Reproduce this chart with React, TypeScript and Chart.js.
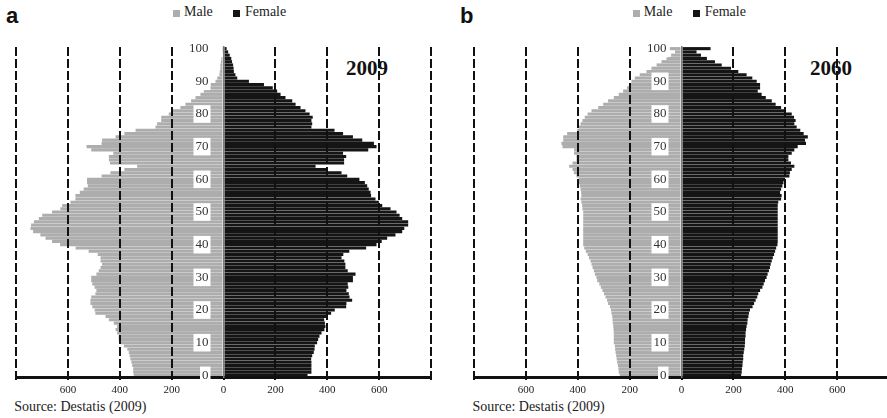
import React, { useEffect, useRef } from "react";
import { Chart, registerables } from "chart.js";

Chart.register(...registerables);

// ---------- data (thousands of persons, by single year of age 0..100) ----------
const ages: string[] = Array.from({ length: 101 }, (_, i) => String(i));

const male2009: number[] = [
  346, 348, 348, 352, 355, 359, 362, 365, 371, 384,
  397, 404, 404, 410, 416, 410, 423, 442, 455, 494,
  497, 506, 513, 513, 510, 494, 490, 497, 506, 510,
  510, 490, 481, 474, 468, 474, 474, 485, 520, 570,
  630, 661, 686, 706, 734, 744, 742, 731, 712, 699,
  661, 629, 622, 590, 571, 571, 554, 539, 523, 526,
  526, 470, 436, 382, 333, 438, 442, 442, 425, 510,
  528, 470, 468, 416, 382, 339, 262, 256, 240, 240,
  211, 198, 166, 147, 125, 108, 89, 76, 52, 50,
  31, 24, 16, 14, 12, 12, 10, 8, 4, 3,
  2,
];

const female2009: number[] = [
  324, 339, 339, 339, 339, 338, 342, 348, 351, 352,
  361, 365, 370, 378, 389, 393, 391, 388, 400, 415,
  429, 473, 474, 496, 486, 483, 474, 481, 479, 499,
  499, 509, 479, 470, 470, 466, 455, 462, 485, 550,
  590, 610, 631, 663, 689, 697, 712, 712, 689, 679,
  667, 644, 612, 599, 586, 569, 567, 560, 554, 545,
  524, 477, 455, 400, 355, 465, 465, 473, 461, 558,
  590, 580, 535, 499, 461, 428, 339, 342, 339, 344,
  332, 316, 297, 278, 265, 239, 220, 207, 190, 156,
  98, 53, 46, 40, 39, 37, 33, 30, 24, 18,
  12,
];

const male2060: number[] = [
  238, 242, 243, 245, 248, 250, 252, 254, 256, 257,
  261, 261, 261, 261, 262, 263, 265, 266, 267, 270,
  272, 276, 283, 287, 293, 299, 305, 311, 317, 325,
  328, 334, 338, 343, 347, 351, 357, 362, 369, 375,
  379, 379, 379, 379, 379, 379, 379, 379, 379, 379,
  379, 382, 383, 386, 389, 386, 387, 389, 392, 395,
  396, 405, 415, 420, 433, 420, 405, 405, 414, 414,
  459, 463, 456, 456, 441, 402, 395, 389, 382, 373,
  362, 347, 321, 302, 283, 261, 242, 225, 210, 202,
  193, 180, 161, 135, 116, 96, 77, 58, 40, 25,
  45,
];

const female2060: number[] = [
  230, 232, 233, 235, 236, 238, 238, 240, 242, 244,
  245, 245, 247, 247, 249, 251, 254, 255, 258, 260,
  264, 274, 280, 286, 292, 296, 303, 312, 317, 322,
  328, 332, 337, 341, 344, 348, 352, 357, 361, 365,
  370, 371, 371, 371, 371, 371, 371, 371, 371, 371,
  371, 371, 371, 373, 384, 386, 380, 384, 389, 393,
  399, 416, 418, 425, 435, 422, 412, 412, 425, 435,
  448, 480, 476, 487, 471, 458, 444, 435, 440, 434,
  425, 399, 384, 363, 348, 325, 309, 294, 303, 303,
  290, 273, 251, 219, 191, 155, 129, 98, 75, 58,
  112,
];

const xTickStep = 200;
const xMin = -800;
const xMax = 800;
const legendLabels = ["Male", "Female"];

// ---------- styles ----------
const SERIF = "'Liberation Serif', 'Times New Roman', serif";
const SANS = "'Liberation Sans', Arial, sans-serif";
const MALE_COLOR = "#adadad";
const FEMALE_COLOR = "#151515";
const H = 418;

type PyramidProps = {
  male: number[];
  female: number[];
  left: number;
  width: number;
  padLeft: number;
  padRight: number;
};

function Pyramid({ male, female, left, width, padLeft, padRight }: PyramidProps) {
  const ref = useRef<HTMLCanvasElement | null>(null);

  useEffect(() => {
    if (!ref.current) return;
    const chart = new Chart(ref.current, {
      type: "bar",
      data: {
        labels: ages,
        datasets: [
          {
            label: legendLabels[0],
            data: male.map((v) => -v),
            backgroundColor: MALE_COLOR,
            borderWidth: 0,
          },
          {
            label: legendLabels[1],
            data: female,
            backgroundColor: FEMALE_COLOR,
            borderWidth: 0,
          },
        ],
      },
      options: {
        indexAxis: "y",
        animation: false,
        responsive: false,
        maintainAspectRatio: false,
        events: [],
        layout: { padding: { left: padLeft, right: padRight, top: 47, bottom: 21 } },
        plugins: { legend: { display: false }, tooltip: { enabled: false } },
        datasets: { bar: { categoryPercentage: 1, barPercentage: 0.95 } },
        scales: {
          x: {
            type: "linear",
            min: xMin,
            max: xMax,
            stacked: true,
            afterFit: (s: any) => {
              s.height = 20;
            },
            ticks: {
              stepSize: xTickStep,
              maxRotation: 0,
              autoSkip: false,
              padding: 4,
              color: "#222",
              font: { family: SERIF, size: 11 },
              callback: (v: any) => (Math.abs(v) === 800 ? "" : String(Math.abs(v))),
            },
            grid: {
              z: 1,
              lineWidth: 2,
              color: (ctx: any) =>
                ctx.tick && ctx.tick.value === 0 ? "rgba(0,0,0,0)" : "#111",
              drawTicks: true,
              tickLength: 3,
              tickColor: "#111",
              tickWidth: 2,
            },
            border: { display: true, color: "#111", width: 3, dash: [9, 3], z: 1 },
          },
          y: {
            type: "category",
            reverse: true,
            stacked: true,
            position: "center",
            afterBuildTicks: (s: any) => {
              s.ticks = s.ticks.filter((t: any) => t.value % 10 === 0);
            },
            grid: { display: false, drawTicks: false },
            border: { display: true, color: "#7a7a7a", width: 1.5, z: 1 },
            ticks: {
              z: 2,
              autoSkip: false,
              padding: 15,
              color: "#333",
              font: { family: SERIF, size: 13 },
              showLabelBackdrop: true,
              backdropColor: "#ffffff",
              backdropPadding: { x: 2, y: 1 },
              callback: (v: any) => ages[v],
            },
          },
        },
      } as any,
    });
    return () => chart.destroy();
  }, []);

  return (
    <canvas
      ref={ref}
      width={width}
      height={H}
      style={{ position: "absolute", left, top: 0, width, height: H, zIndex: 1, display: "block" }}
    />
  );
}

function Legend({ left }: { left: number }) {
  const text: React.CSSProperties = {
    position: "absolute",
    top: 5,
    font: `14px ${SERIF}`,
    lineHeight: "14px",
    color: "#222",
    whiteSpace: "nowrap",
  };
  const sq: React.CSSProperties = { position: "absolute", top: 9.5, width: 7, height: 7 };
  return (
    <>
      <div style={{ ...sq, left, background: MALE_COLOR }} />
      <div style={{ ...text, left: left + 11 }}>{legendLabels[0]}</div>
      <div style={{ ...sq, left: left + 60, background: FEMALE_COLOR }} />
      <div style={{ ...text, left: left + 72 }}>{legendLabels[1]}</div>
    </>
  );
}

function Label({ left, top, children, style }: any) {
  return (
    <div style={{ position: "absolute", left, top, whiteSpace: "nowrap", zIndex: 0, ...style }}>
      {children}
    </div>
  );
}

export default function App() {
  const panelLetter = { font: `bold 22px ${SANS}`, lineHeight: "22px", color: "#111" };
  const year = { font: `bold 21px ${SERIF}`, lineHeight: "21px", color: "#111" };
  const source = { font: `14px ${SERIF}`, lineHeight: "14px", color: "#222" };
  return (
    <div
      style={{
        position: "fixed",
        left: 0,
        top: 0,
        width: 887,
        height: H,
        overflow: "hidden",
        background: "#fff",
      }}
    >
      <Label left={6} top={5.4} style={panelLetter}>a</Label>
      <Label left={460} top={5.4} style={panelLetter}>b</Label>
      <Label left={346} top={58.4} style={year}>2009</Label>
      <Label left={810} top={58.4} style={year}>2060</Label>
      <Label left={14.2} top={400.3} style={source}>Source: Destatis (2009)</Label>
      <Label left={472.5} top={400.3} style={source}>Source: Destatis (2009)</Label>
      <Legend left={173} />
      <Legend left={632.7} />
      <Pyramid male={male2009} female={female2009} left={0} width={445} padLeft={16} padRight={14} />
      <Pyramid male={male2060} female={female2060} left={440} width={470} padLeft={34} padRight={21} />
    </div>
  );
}
